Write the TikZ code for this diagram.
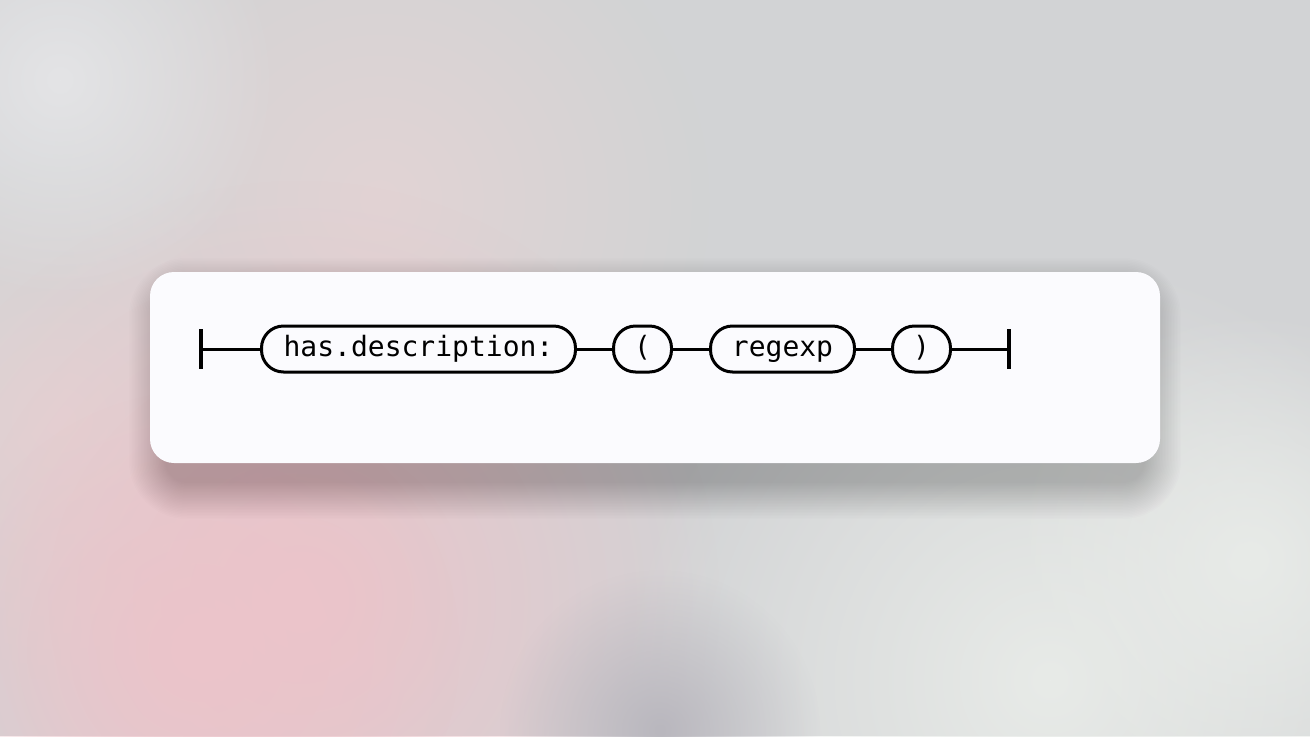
\documentclass[tikz,border=0pt]{standalone}
\usepackage{fontspec}
\newfontfamily\diagmono{DejaVu Sans Mono}
\usetikzlibrary{fadings}
\tikzfading[name=softblob, inner color=transparent!0, outer color=transparent!100]
\definecolor{bgbase}{RGB}{210,211,213}
\definecolor{bgpink}{RGB}{236,196,202}
\definecolor{bgpink2}{RGB}{226,212,212}
\definecolor{bglight}{RGB}{232,235,232}
\definecolor{bgdark}{RGB}{185,183,190}
\definecolor{cardfill}{RGB}{251,251,254}
\definecolor{shadowc}{RGB}{70,55,60}
\tikzset{
  railbox/.style={draw=black, line width=2.25pt, rounded corners=16.5pt, minimum height=34.5pt, inner xsep=0pt, fill=cardfill, font=\diagmono\fontsize{21pt}{24pt}\selectfont, text height=15.5pt, text depth=4pt, anchor=west},
  rail/.style={draw=black, line width=2.25pt},
  railbar/.style={draw=black, line width=2.6pt},
  shadowlayer/.style={fill=shadowc, opacity=0.013},
}
\begin{document}
\begin{tikzpicture}[x=0.75pt,y=-0.75pt]
\useasboundingbox (0,0) rectangle (1310,736);
\begin{scope}
\clip (0,0) rectangle (1310,736);
\fill[bgbase] (0,0) rectangle (1310,736);
\fill[bgpink2, path fading=softblob] (380,200) circle (330);
\fill[bgpink2, path fading=softblob] (60,420) circle (260);
\fill[bgpink, path fading=softblob] (300,600) circle (420);
\fill[bgpink, path fading=softblob] (200,650) circle (260);
\fill[bglight, path fading=softblob] (1050,680) circle (430);
\fill[bglight, path fading=softblob] (1250,560) circle (250);
\fill[bgdark, path fading=softblob] (660,730) circle (160);
\fill[white!40!bgbase, path fading=softblob] (60,80) circle (220);
\end{scope}
\foreach \i in {0,...,24} {
  \pgfmathsetmacro{\d}{36-1.5*\i}
  \pgfmathsetmacro{\r}{(22+\d)*0.75}
  \fill[shadowlayer, rounded corners=\r pt] (165-\d,294-\d) rectangle (1145+\d,483+\d);
}
\fill[cardfill, rounded corners=18pt] (150,272) rectangle (1160,463);
\node[railbox, minimum width=235.5pt] (b1) at (260,349) {has.description:};
\node[railbox, minimum width=43.5pt] (b2) at (612,349) {(};
\node[railbox, minimum width=108pt] (b3) at (709,349) {regexp};
\node[railbox, minimum width=43.5pt] (b4) at (891,349) {)};
\coordinate (s) at (201,349);
\coordinate (e) at (1009,349);
\draw[railbar] (201,329) -- (201,369);
\draw[railbar] (1009,329) -- (1009,369);
\draw[rail] (s) -- (b1.west);
\draw[rail] (b1.east) -- (b2.west);
\draw[rail] (b2.east) -- (b3.west);
\draw[rail] (b3.east) -- (b4.west);
\draw[rail] (b4.east) -- (e);
\end{tikzpicture}
\end{document}
